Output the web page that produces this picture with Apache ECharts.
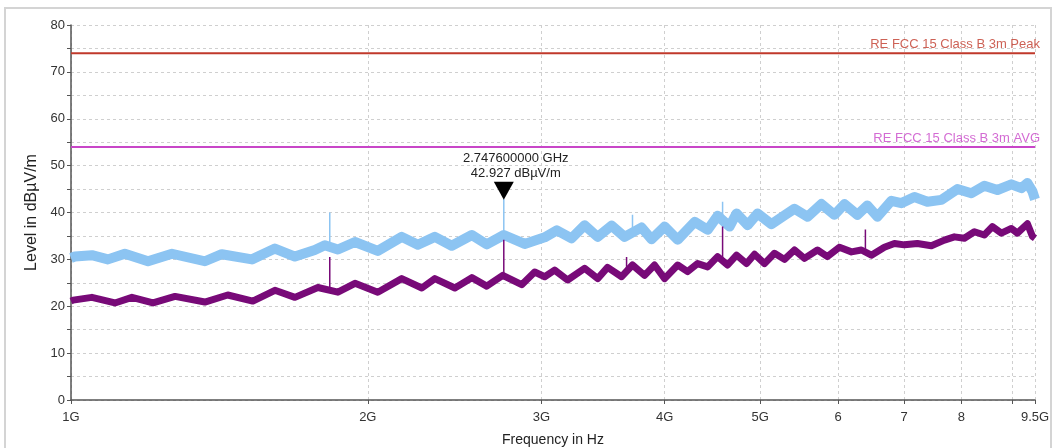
<!DOCTYPE html>
<html>
<head>
<meta charset="utf-8">
<script src="https://cdn.jsdelivr.net/npm/echarts@6/dist/echarts.min.js"></script>
<style>
html,body{margin:0;padding:0;background:#fff;}
#c{width:1057px;height:448px;}
</style>
</head>
<body>
<div id="c"></div>
<script>
// ---- axis ticks ----
const freqTicks = [1, 2, 3, 4, 5, 6, 7, 8, 9, 9.5];
const freqTickLabels = ['1G', '2G', '3G', '4G', '5G', '6', '7', '8', '', '9.5G'];

// ---- peak trace (light blue), GHz / dBµV/m ----
const peakFreq = [1.000,1.009,1.050,1.090,1.134,1.197,1.266,1.367,1.422,1.526,1.610,1.687,1.767,1.809,1.865,1.941,2.047,2.165,2.248,2.339,2.433,2.550,2.640,2.748,2.885,3.023,3.110,3.219,3.318,3.421,3.534,3.643,3.790,3.880,4.000,4.124,4.291,4.423,4.527,4.655,4.732,4.855,4.970,5.134,5.292,5.417,5.585,5.770,5.947,6.088,6.275,6.423,6.575,6.793,6.953,7.168,7.389,7.634,7.925,8.188,8.440,8.701,8.990,9.203,9.333,9.443,9.500];
const peakLevel = [30.3,30.6,30.9,30.0,31.2,29.6,31.2,29.6,31.1,30.0,32.3,30.6,32.0,33.0,32.1,33.7,31.8,34.8,33.1,34.8,32.9,35.2,33.2,35.2,33.3,34.7,36.2,34.5,37.3,34.8,37.2,34.8,36.8,34.3,37.0,34.2,38.0,36.3,39.3,37.0,39.8,37.3,39.8,37.5,39.4,40.8,39.1,41.8,39.5,41.8,39.5,41.5,39.1,42.5,42.0,43.3,42.3,42.7,45.0,44.1,45.7,44.8,46.0,45.2,46.3,44.5,42.8];

// ---- average trace (purple) ----
const avgFreq = [1.000,1.005,1.050,1.108,1.153,1.211,1.275,1.367,1.442,1.529,1.610,1.687,1.780,1.865,1.941,2.047,2.165,2.269,2.339,2.451,2.550,2.640,2.741,2.865,2.953,3.023,3.094,3.189,3.318,3.421,3.501,3.618,3.711,3.817,3.907,4.000,4.124,4.221,4.321,4.423,4.527,4.634,4.732,4.844,4.935,5.051,5.170,5.292,5.417,5.545,5.716,5.851,6.017,6.188,6.334,6.483,6.683,6.841,7.002,7.218,7.458,7.688,7.870,8.055,8.246,8.440,8.600,8.782,8.990,9.117,9.333,9.443,9.500];
const avgLevel = [21.1,21.3,21.9,20.7,21.9,20.7,22.1,20.9,22.4,21.1,23.4,21.9,24.0,23.0,24.9,23.0,25.9,23.9,25.9,23.9,26.1,24.3,26.6,24.6,27.3,26.3,27.7,25.6,28.1,25.9,28.3,26.3,28.8,26.6,28.8,25.9,28.8,27.4,29.1,28.4,30.6,28.8,30.9,29.1,31.1,29.1,31.3,30.0,32.0,30.2,32.0,30.6,32.6,31.6,32.0,30.9,32.6,33.4,33.1,33.4,32.9,34.1,34.8,34.5,35.9,35.2,37.0,35.6,36.6,35.6,37.6,34.9,34.5];

// ---- narrow spikes ----
const peakSpikeFreq = [1.830, 2.7476, 3.711, 4.580];
const peakSpikeBase = [32.5, 35.0, 36.5, 38.0];
const peakSpikeTop  = [40.0, 42.927, 39.5, 42.3];
const avgSpikeFreq = [1.830, 2.7476, 3.660, 4.580, 6.393];
const avgSpikeBase = [23.5, 26.0, 27.5, 29.5, 32.0];
const avgSpikeTop  = [30.5, 34.2, 30.5, 37.0, 36.4];

// ---- limit lines ----
const limitNames = ['RE FCC 15 Class B 3m Peak', 'RE FCC 15 Class B 3m AVG'];
const limitLevels = [74, 54];
const limitColors = ['#c0392b', '#c846c8'];

// ---- marker ----
const markerFreq = 2.7476;
const markerLevel = 42.927;

const FONT = 'Liberation Sans, Arial, sans-serif';
const fStart = freqTicks[0], fEnd = freqTicks[freqTicks.length - 1];

function pairs(xs, ys) { return xs.map((x, i) => [x, ys[i]]); }
function spikes(xs, lo, hi) {
  const out = [];
  xs.forEach((x, i) => { out.push([x, lo[i]], [x, hi[i]], '-'); });
  return out;
}
function tickLabel(v) {
  let best = 0, bd = Infinity;
  freqTicks.forEach((t, i) => { const d = Math.abs(t - v); if (d < bd) { bd = d; best = i; } });
  return freqTickLabels[best];
}

const chart = echarts.init(document.getElementById('c'), null, {renderer: 'canvas'});

const series = [];
series.push({
  type: 'line', data: pairs(peakFreq, peakLevel), showSymbol: false, silent: true,
  lineStyle: {color: '#8cc4f2', width: 10, join: 'round'}, z: 2
});
series.push({
  type: 'line', data: spikes(peakSpikeFreq, peakSpikeBase, peakSpikeTop), showSymbol: false, silent: true,
  connectNulls: false, lineStyle: {color: '#8cc4f2', width: 1.5}, z: 2
});
series.push({
  type: 'line', data: pairs(avgFreq, avgLevel), showSymbol: false, silent: true,
  lineStyle: {color: '#780a78', width: 7, join: 'round'}, z: 3
});
series.push({
  type: 'line', data: spikes(avgSpikeFreq, avgSpikeBase, avgSpikeTop), showSymbol: false, silent: true,
  connectNulls: false, lineStyle: {color: '#780a78', width: 1.5}, z: 3
});
limitLevels.forEach((lv, i) => {
  series.push({
    type: 'line', data: [[fStart, lv], [fEnd, lv]], showSymbol: false, silent: true,
    lineStyle: {color: limitColors[i], width: 2}, z: 4
  });
});
series.push({
  type: 'scatter', symbolSize: 0, silent: true, z: 5,
  data: limitLevels.map((lv, i) => ({
    value: [fEnd, lv],
    label: {show: true, position: 'top', align: 'right', distance: 2, offset: [5, 0],
      formatter: limitNames[i], color: limitColors[i], fontSize: 13, fontFamily: FONT}
  }))
});
series.push({
  type: 'scatter', silent: true, z: 6,
  data: [[markerFreq, markerLevel]],
  symbol: 'path://M0,0 L20,0 L10,18 Z', symbolSize: [20, 18], symbolOffset: [0, -8],
  itemStyle: {color: '#000', opacity: 1},
  label: {show: true, position: 'top', distance: 2, offset: [12, 1], align: 'center',
    color: '#222', fontSize: 13, fontFamily: FONT, lineHeight: 15,
    formatter: p => p.value[0].toFixed(9) + ' GHz\n' + p.value[1].toFixed(3) + ' dBµV/m'}
});

chart.setOption({
  animation: false,
  backgroundColor: '#fff',
  graphic: [{type: 'rect', shape: {x: 5, y: 8, width: 1046, height: 460}, style: {fill: 'none', stroke: '#d4d4d4', lineWidth: 2}, z: -1}],
  grid: {left: 71, right: 22, top: 25, bottom: 48, containLabel: false, outerBoundsMode: 'none'},
  xAxis: {
    type: 'log', logBase: 10, min: fStart, max: fEnd,
    name: 'Frequency in Hz', nameLocation: 'middle', nameGap: 33,
    nameTextStyle: {fontSize: 14, color: '#222', fontFamily: FONT},
    axisLine: {lineStyle: {color: '#555', width: 1.5}},
    axisTick: {show: true, customValues: freqTicks, length: 4, inside: false, lineStyle: {color: '#555'}},
    axisLabel: {customValues: freqTicks, formatter: v => tickLabel(v), fontSize: 13, color: '#333', fontFamily: FONT, margin: 11},
    splitLine: {show: true, lineStyle: {color: '#cfcfcf', type: [3, 3], width: 1}},
    minorTick: {show: false}, minorSplitLine: {show: false}
  },
  yAxis: {
    type: 'value', min: 0, max: 80, interval: 10,
    name: 'Level in dBµV/m', nameLocation: 'middle', nameGap: 27,
    nameTextStyle: {fontSize: 16, color: '#222', fontFamily: FONT},
    axisLine: {show: true, lineStyle: {color: '#555', width: 1.5}},
    axisTick: {show: true, length: 4, lineStyle: {color: '#555'}},
    minorTick: {show: true, splitNumber: 2, length: 4, lineStyle: {color: '#555'}},
    axisLabel: {fontSize: 13, color: '#333', fontFamily: FONT, margin: 6},
    splitLine: {show: true, lineStyle: {color: '#cfcfcf', type: [3, 3], width: 1}},
    minorSplitLine: {show: true, lineStyle: {color: '#cfcfcf', type: [3, 3], width: 1}}
  },
  series: series
});
</script>
</body>
</html>
